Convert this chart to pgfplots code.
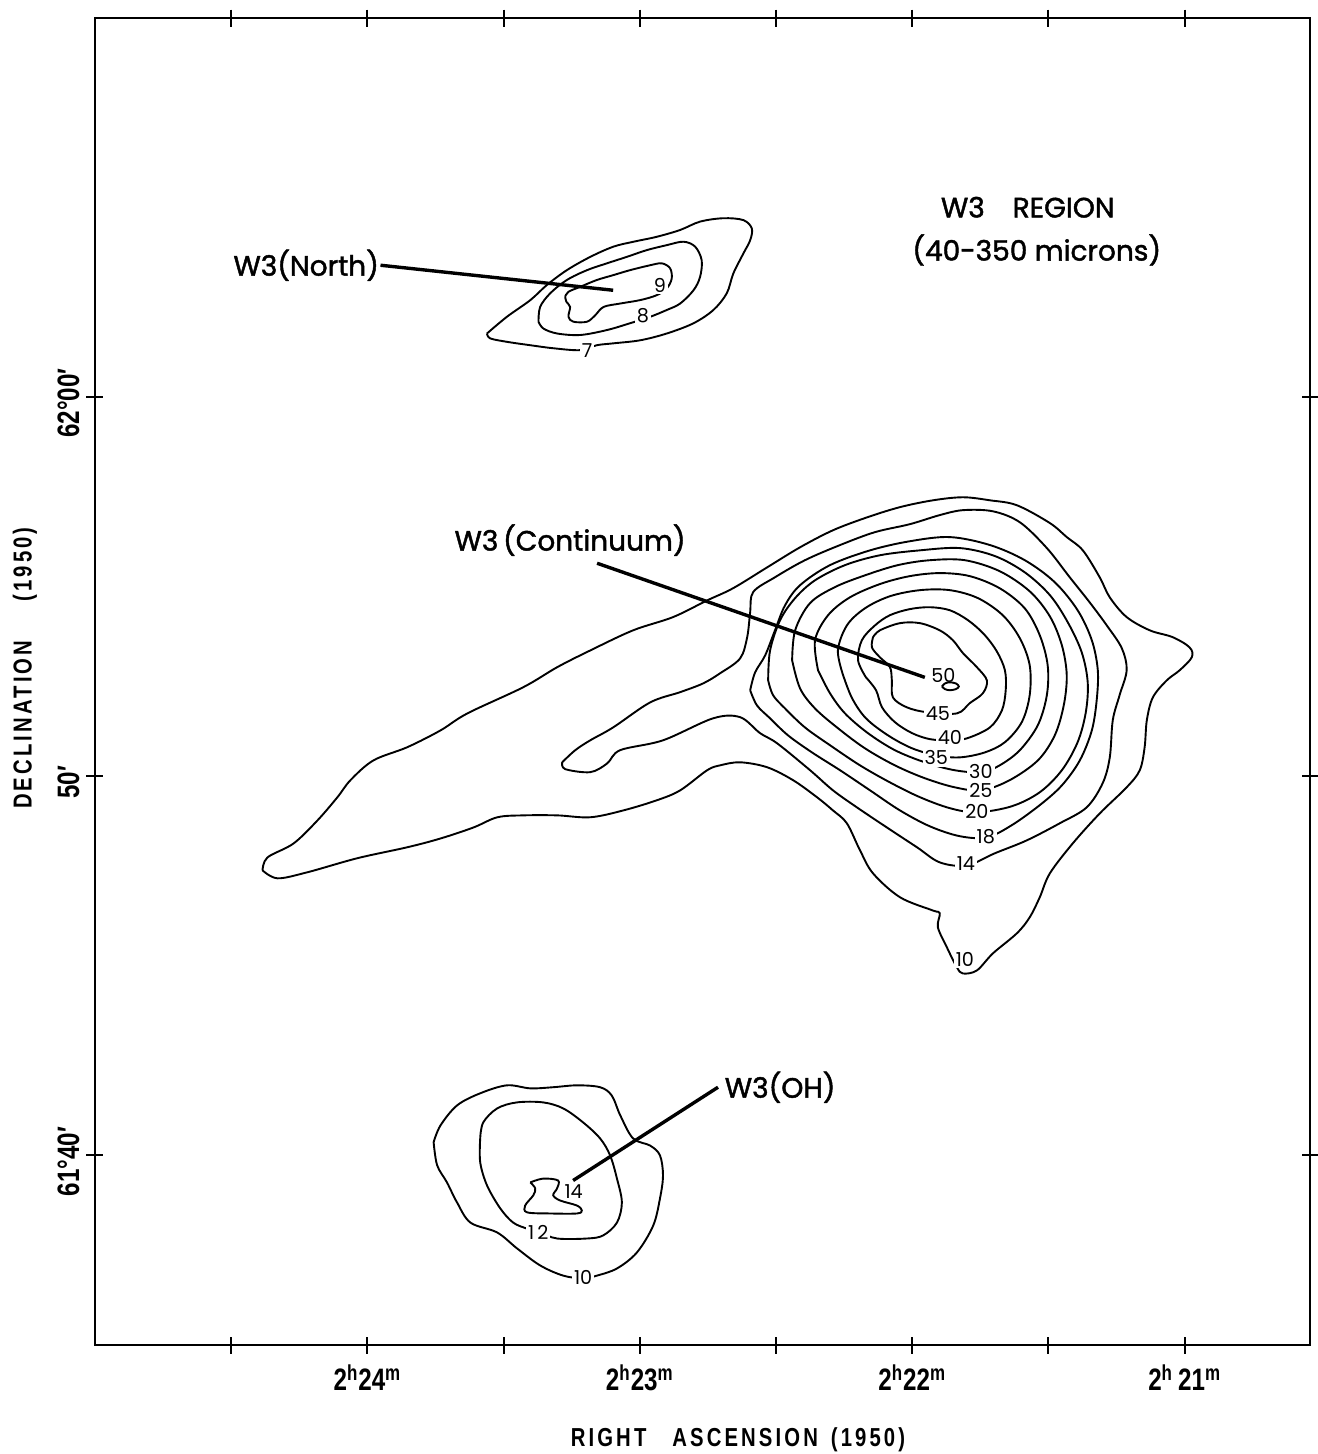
\documentclass[border=0pt]{standalone}
\usepackage{fontspec}
\setmainfont{Liberation Sans}
\newfontfamily\condfont[FakeStretch=0.78]{Liberation Sans}
\newfontfamily\futfont{Poppins}
\newfontfamily\futbfont[FakeBold=1.6]{Poppins}
\usepackage{pgfplots}
\pgfplotsset{compat=1.18}
\tikzset{
  lab/.style={font=\futfont\fontsize{9.6}{10}\selectfont, fill=white, inner sep=1pt},
  wname/.style={font=\futbfont\fontsize{14}{16}\selectfont},
}

\begin{document}
\begin{tikzpicture}
\begin{axis}[
  scale only axis, width=607.5pt, height=663.5pt,
  xmin=20.54, xmax=25, ymin=35, ymax=70,
  x dir=reverse,
  clip=false,
  axis line style={line width=1.2pt},
  tick align=center, major tick length=8.5pt,
  every tick/.style={line width=1pt, black},
  xtick={21,21.5,22,22.5,23,23.5,24,24.5},
  xticklabels={2\textsuperscript{h}\,21\textsuperscript{m},,2\textsuperscript{h}22\textsuperscript{m},,2\textsuperscript{h}23\textsuperscript{m},,2\textsuperscript{h}24\textsuperscript{m},},
  ytick={40,50,60},
  yticklabels={61°40′,50′,62°00′},
  tick label style={font=\condfont\bfseries\fontsize{15.5}{15.5}\selectfont},
  xticklabel style={anchor=north, yshift=-2pt},
  yticklabel style={rotate=90, anchor=south, xshift=-3pt},
  cont/.style={line width=0.95pt, black, smooth, tension=0.55, no markers},
  lead/.style={line width=1.7pt, black, no markers},
]
% ---------------- W3(North) ----------------
\addplot[cont] coordinates {(23.561,61.68) (23.488,62.12) (23.402,62.56) (23.341,62.96) (23.268,63.35) (23.182,63.70) (23.097,63.97) (23.023,64.10) (22.938,64.23) (22.852,64.41) (22.779,64.63) (22.693,64.72) (22.620,64.67) (22.589,64.45) (22.595,64.14) (22.620,63.79) (22.657,63.26) (22.681,62.74) (22.730,62.30) (22.803,61.95) (22.901,61.68) (22.999,61.50) (23.097,61.42) (23.158,61.37) (23.219,61.24) (23.317,61.29) (23.402,61.37) (23.488,61.46) (23.549,61.55) (23.561,61.68)};
\addplot[cont] coordinates {(23.372,61.99) (23.366,62.38) (23.329,62.74) (23.268,63.09) (23.194,63.35) (23.121,63.53) (23.048,63.70) (22.974,63.88) (22.901,64.01) (22.840,64.10) (22.797,63.97) (22.773,63.61) (22.779,63.17) (22.803,62.82) (22.852,62.47) (22.901,62.30) (22.962,62.12) (23.036,61.95) (23.121,61.77) (23.219,61.64) (23.304,61.68) (23.354,61.81) (23.372,61.99)};
\addplot[cont] coordinates {(23.274,62.65) (23.262,62.78) (23.219,62.91) (23.158,63.09) (23.097,63.22) (23.036,63.35) (22.962,63.48) (22.919,63.53) (22.889,63.40) (22.883,63.13) (22.901,62.87) (22.938,62.69) (22.999,62.56) (23.072,62.47) (23.133,62.38) (23.164,62.16) (23.194,61.99) (23.244,61.99) (23.262,62.12) (23.256,62.38) (23.270,62.52) (23.274,62.65)};

% ---------------- W3(Continuum) ----------------
% 10
\addplot[cont] coordinates {(24.385,47.52) (24.367,47.86) (24.271,48.23) (24.183,48.84) (24.110,49.45) (24.062,49.90) (23.978,50.42) (23.853,50.77) (23.732,51.21) (23.633,51.66) (23.428,52.35) (23.303,52.88) (23.182,53.32) (23.025,53.85) (22.878,54.20) (22.753,54.64) (22.658,54.96) (22.533,55.51) (22.412,56.04) (22.291,56.49) (22.166,56.83) (22.045,57.10) (21.924,57.28) (21.814,57.36) (21.715,57.28) (21.616,57.15) (21.495,56.68) (21.433,56.31) (21.374,55.96) (21.312,55.25) (21.275,54.72) (21.213,54.20) (21.128,53.85) (21.044,53.67) (20.982,53.40) (20.974,53.14) (21.018,52.80) (21.066,52.53) (21.117,52.08) (21.139,51.48) (21.147,50.77) (21.165,50.16) (21.213,49.71) (21.312,49.02) (21.411,48.23) (21.495,47.44) (21.532,46.81) (21.569,46.28) (21.616,45.86) (21.704,45.33) (21.763,44.88) (21.814,44.80) (21.836,44.96) (21.873,45.49) (21.906,46.02) (21.899,46.39) (21.924,46.46) (22.045,46.81) (22.144,47.44) (22.192,48.05) (22.240,48.76) (22.291,49.10) (22.350,49.45) (22.438,49.90) (22.533,50.24) (22.632,50.37) (22.705,50.29) (22.753,50.16) (22.852,49.63) (22.937,49.37) (23.061,49.10) (23.182,48.92) (23.303,48.97) (23.428,48.97) (23.523,48.92) (23.611,48.65) (23.732,48.36) (23.853,48.13) (24.037,47.84) (24.220,47.47) (24.330,47.31) (24.385,47.52)};
% 14
\addplot[cont] coordinates {(23.285,50.37) (23.237,50.69) (23.182,50.95) (23.098,51.29) (22.962,51.95) (22.852,52.22) (22.768,52.45) (22.705,52.72) (22.632,53.11) (22.606,53.67) (22.595,54.33) (22.584,54.86) (22.504,55.25) (22.394,55.70) (22.265,56.10) (22.137,56.44) (22.009,56.65) (21.899,56.89) (21.814,57.02) (21.704,56.99) (21.605,56.70) (21.506,56.02) (21.422,55.25) (21.349,54.59) (21.286,53.98) (21.231,53.38) (21.213,52.80) (21.239,52.14) (21.264,51.48) (21.275,50.50) (21.301,49.82) (21.360,49.18) (21.459,48.76) (21.580,48.31) (21.697,47.97) (21.800,47.65) (21.899,47.73) (21.983,48.13) (22.093,48.65) (22.203,49.18) (22.291,49.63) (22.375,50.16) (22.496,50.87) (22.559,51.14) (22.632,51.56) (22.731,51.53) (22.915,50.95) (23.072,50.69) (23.120,50.34) (23.182,50.11) (23.274,50.19) (23.285,50.37)};
% 18
\addplot[cont] coordinates {(22.595,52.27) (22.577,52.74) (22.540,53.19) (22.504,53.85) (22.467,54.51) (22.412,55.04) (22.302,55.57) (22.155,55.96) (22.009,56.20) (21.862,56.31) (21.715,56.10) (21.587,55.70) (21.477,55.12) (21.393,54.38) (21.341,53.59) (21.319,52.80) (21.323,52.01) (21.341,51.21) (21.385,50.42) (21.451,49.76) (21.532,49.24) (21.635,48.71) (21.726,48.39) (21.825,48.42) (21.935,48.68) (22.045,49.10) (22.155,49.63) (22.265,50.16) (22.368,50.63) (22.456,51.08) (22.522,51.53) (22.570,51.87) (22.595,52.27)};
% 20
\addplot[cont] coordinates {(22.529,52.53) (22.522,53.32) (22.485,54.12) (22.430,54.70) (22.357,55.17) (22.247,55.57) (22.119,55.83) (21.972,55.96) (21.825,56.02) (21.697,55.81) (21.587,55.38) (21.495,54.78) (21.429,54.06) (21.378,53.27) (21.356,52.48) (21.363,51.69) (21.393,50.90) (21.451,50.16) (21.532,49.58) (21.635,49.21) (21.763,49.05) (21.862,49.16) (21.972,49.45) (22.082,49.84) (22.192,50.29) (22.302,50.82) (22.394,51.29) (22.467,51.79) (22.511,52.14) (22.529,52.53)};
% 25
\addplot[cont] coordinates {(22.441,53.06) (22.430,53.85) (22.375,54.57) (22.284,54.99) (22.174,55.30) (22.053,55.57) (21.935,55.70) (21.807,55.70) (21.679,55.41) (21.569,54.88) (21.495,54.22) (21.451,53.46) (21.433,52.67) (21.444,51.87) (21.477,51.08) (21.539,50.42) (21.642,49.90) (21.745,49.63) (21.844,49.71) (21.954,49.95) (22.064,50.29) (22.174,50.74) (22.273,51.27) (22.357,51.79) (22.412,52.32) (22.441,53.06)};
% 30
\addplot[cont] coordinates {(22.346,52.80) (22.357,53.59) (22.309,54.25) (22.229,54.72) (22.119,55.07) (22.009,55.28) (21.899,55.36) (21.789,55.28) (21.679,54.96) (21.587,54.43) (21.532,53.72) (21.503,52.93) (21.506,52.14) (21.539,51.35) (21.605,50.69) (21.679,50.29) (21.745,50.11) (21.844,50.16) (21.954,50.37) (22.064,50.69) (22.163,51.14) (22.247,51.66) (22.302,52.19) (22.346,52.80)};
% 35
\addplot[cont] coordinates {(22.254,52.67) (22.273,53.32) (22.240,53.98) (22.174,54.43) (22.082,54.75) (21.972,54.91) (21.862,54.91) (21.759,54.70) (21.668,54.25) (21.605,53.64) (21.569,52.93) (21.569,52.14) (21.598,51.43) (21.660,50.90) (21.734,50.63) (21.825,50.50) (21.910,50.55) (22.001,50.74) (22.089,51.08) (22.170,51.53) (22.221,52.06) (22.254,52.67)};
% 40
\addplot[cont] coordinates {(22.170,52.61) (22.199,53.06) (22.185,53.59) (22.137,53.98) (22.082,54.25) (22.009,54.41) (21.935,54.46) (21.862,54.38) (21.796,54.12) (21.737,53.75) (21.690,53.30) (21.660,52.80) (21.657,52.27) (21.671,51.74) (21.715,51.29) (21.800,51.00) (21.862,50.95) (21.935,50.98) (22.001,51.14) (22.064,51.43) (22.111,51.82) (22.133,52.27) (22.170,52.61)};
% 45
\addplot[cont] coordinates {(22.144,53.67) (22.119,53.85) (22.045,54.04) (21.972,54.04) (21.899,53.85) (21.851,53.59) (21.814,53.25) (21.763,52.88) (21.726,52.53) (21.741,52.19) (21.789,51.93) (21.836,51.66) (21.946,51.69) (22.020,51.82) (22.071,52.08) (22.075,52.53) (22.082,52.88) (22.119,53.14) (22.148,53.40) (22.144,53.67)};
% 50
\addplot[cont] coordinates {(21.891,52.37) (21.880,52.45) (21.862,52.48) (21.840,52.45) (21.829,52.37) (21.840,52.30) (21.862,52.27) (21.880,52.30) (21.891,52.37)};

% ---------------- W3(OH) ----------------
\addplot[cont] coordinates {(23.757,40.35) (23.732,40.79) (23.671,41.32) (23.586,41.64) (23.488,41.85) (23.402,41.77) (23.318,41.80) (23.231,41.85) (23.146,41.80) (23.103,41.58) (23.072,41.06) (23.025,40.45) (22.962,40.26) (22.926,40.00) (22.915,39.47) (22.926,38.87) (22.951,38.15) (23.011,37.44) (23.084,37.02) (23.158,36.83) (23.208,36.76) (23.281,36.83) (23.366,37.10) (23.451,37.55) (23.524,37.97) (23.622,38.23) (23.671,38.76) (23.708,39.29) (23.744,39.74) (23.757,40.35)};
\addplot[cont] coordinates {(23.586,40.45) (23.575,40.87) (23.524,41.24) (23.451,41.40) (23.355,41.40) (23.281,41.24) (23.208,40.87) (23.146,40.45) (23.109,40.00) (23.084,39.39) (23.066,38.76) (23.084,38.23) (23.135,37.89) (23.194,37.81) (23.304,37.81) (23.366,37.97) (23.414,38.07) (23.465,38.23) (23.512,38.60) (23.561,39.21) (23.586,39.82) (23.586,40.45)};
\addplot[cont] coordinates {(23.402,39.29) (23.355,39.39) (23.300,39.34) (23.304,39.13) (23.318,38.95) (23.292,38.81) (23.231,38.68) (23.213,38.55) (23.231,38.47) (23.329,38.47) (23.414,38.50) (23.421,38.68) (23.391,38.95) (23.384,39.13) (23.402,39.29)};

% leader lines
\addplot[lead] coordinates {(23.952,63.48) (23.098,62.82)};
\addplot[lead] coordinates {(23.157,55.62) (21.954,52.61)};
\addplot[lead] coordinates {(23.245,39.34) (22.713,41.80)};

% contour values
\node[lab] at (axis cs:22.926,62.96) {9};
\node[lab] at (axis cs:22.989,62.14) {8};
\node[lab] at (axis cs:23.194,61.24) {7};
\node[lab, fill=none] at (axis cs:21.886,52.66) {50};
\node[lab] at (axis cs:21.906,51.66) {45};
\node[lab] at (axis cs:21.862,51.02) {40};
\node[lab] at (axis cs:21.912,50.49) {35};
\node[lab] at (axis cs:21.748,50.13) {30};
\node[lab] at (axis cs:21.748,49.63) {25};
\node[lab] at (axis cs:21.763,49.08) {20};
\node[lab] at (axis cs:21.730,48.42) {18};
\node[lab] at (axis cs:21.803,47.71) {14};
\node[lab] at (axis cs:21.807,45.17) {10};
\node[lab, fill=none] at (axis cs:23.243,39.05) {14};
\node[lab] at (axis cs:23.373,37.97) {1\,2};
\node[lab] at (axis cs:23.208,36.78) {10};

% names
\node[wname, anchor=east, inner sep=1pt] at (axis cs:23.949,63.48) {W3(North)};
\node[wname] at (axis cs:23.256,56.23) {W3\,(Continuum)};
\node[wname] at (axis cs:22.485,41.80) {W3(OH)};
\node[wname] at (axis cs:21.576,65.01) {W3\quad REGION};
\node[wname] at (axis cs:21.543,63.88) {(40-350 microns)};

% axis titles
\node[font=\condfont\bfseries\fontsize{13}{14}\selectfont] at (axis description cs:0.5292,-0.0716)
  {\addfontfeature{LetterSpace=12}RIGHT\quad ASCENSION\enspace (1950)};
\node[font=\condfont\bfseries\fontsize{13}{14}\selectfont, rotate=90] at (axis description cs:-0.0576,0.5102)
  {\addfontfeature{LetterSpace=12}DECLINATION\quad\enspace (1950)};

\coordinate (bbsw) at (axis description cs:-0.0782,-0.0821);
\coordinate (bbne) at (axis description cs:1.0058,1.0136);
\end{axis}
\pgfresetboundingbox
\path[use as bounding box] (bbsw) rectangle (bbne);
\end{tikzpicture}
\end{document}
